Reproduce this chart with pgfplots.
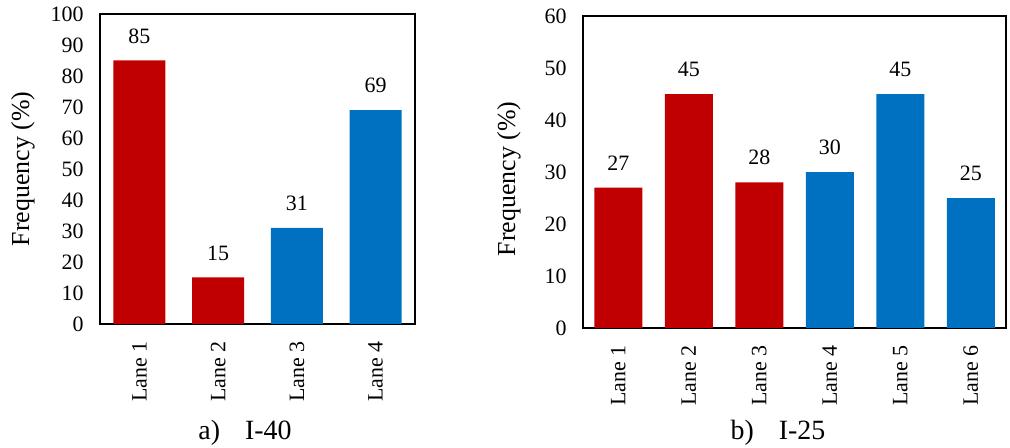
\documentclass[border=0pt]{standalone}
\usepackage{pgfplots}
\pgfplotsset{compat=1.18}
\usepackage{fontspec}
\setmainfont{Liberation Serif}
\definecolor{barred}{HTML}{C00000}
\definecolor{barblue}{HTML}{0070C0}
\pgfplotsset{
  panel/.style={
    scale only axis,
    anchor=south west,
    axis line style={line width=1.6bp},
    major tick length=0pt,
    ymin=0,
    /pgf/number format/assume math mode=true,
    tick label style={font=\fontsize{22}{26}\selectfont},
    yticklabel style={xshift=-13bp},
    xticklabel style={rotate=90, anchor=east, inner sep=0pt, xshift=-17bp},
    ylabel={Frequency (\%)},
    ylabel style={font=\fontsize{26}{30}\selectfont, anchor=center, rotate=0},
    nodes near coords,
    every node near coord/.append style={font=\fontsize{22}{26}\selectfont, inner sep=0pt, anchor=south, yshift=17bp},
    ybar,
    bar shift=0pt,
  }
}
\begin{document}
\begin{tikzpicture}
\useasboundingbox (0,0) rectangle (1010bp,448bp);
\begin{axis}[panel,
  at={(100bp,124bp)}, width=315bp, height=310bp,
  xmin=-0.5, xmax=3.5, ymax=100, ytick distance=10,
  bar width=52bp,
  xtick={0,1,2,3},
  xticklabels={Lane 1,Lane 2,Lane 3,Lane 4},
  ylabel style={at={(axis description cs:-0.245,0.5)}},
]
\addplot[fill=barred, draw=none] coordinates {(0,85) (1,15)};
\addplot[fill=barblue, draw=none] coordinates {(2,31) (3,69)};
\end{axis}
\begin{axis}[panel,
  at={(583bp,120bp)}, width=423bp, height=312bp,
  xmin=-0.5, xmax=5.5, ymax=60, ytick distance=10,
  bar width=48bp,
  xtick={0,1,2,3,4,5},
  xticklabels={Lane 1,Lane 2,Lane 3,Lane 4,Lane 5,Lane 6},
  ylabel style={at={(axis description cs:-0.175,0.478)}},
]
\addplot[fill=barred, draw=none] coordinates {(0,27) (1,45) (2,28)};
\addplot[fill=barblue, draw=none] coordinates {(3,30) (4,45) (5,25)};
\end{axis}
\node[font=\fontsize{28}{32}\selectfont, anchor=base] at (245bp,9bp) {a)\hspace{0.9em}I-40};
\node[font=\fontsize{28}{32}\selectfont, anchor=base] at (778bp,9bp) {b)\hspace{0.9em}I-25};
\end{tikzpicture}
\end{document}
